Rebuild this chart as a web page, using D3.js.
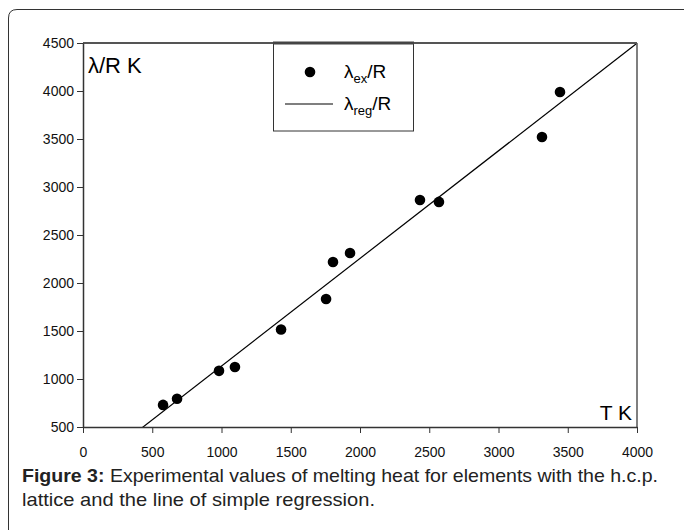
<!DOCTYPE html>
<html>
<head>
<meta charset="utf-8">
<script src="https://cdn.jsdelivr.net/npm/d3@7"></script>
<style>
  body { margin: 0; background: #fff; }
  svg text { font-family: "Liberation Sans", Arial, sans-serif; }
</style>
</head>
<body>
<div id="chart"></div>
<script>
// melting temperature T (K) and lambda_ex/R (K)
const tempK = [578, 679, 982, 1097, 1430, 1755, 1805, 1928, 2433, 2570, 3314, 3444];
const lambdaEx = [730, 795, 1085, 1125, 1515, 1833, 2219, 2312, 2865, 2845, 3521, 3990];

// regression line lambda_reg/R = a*T + b
const regSlope = 1.121;
const regIntercept = 14;

const xTicks = [0, 500, 1000, 1500, 2000, 2500, 3000, 3500, 4000];
const yTicks = [500, 1000, 1500, 2000, 2500, 3000, 3500, 4000, 4500];

const W = 684, H = 530;
const plot = {left: 83, right: 637, top: 43, bottom: 427};

const svg = d3.select("#chart").append("svg")
    .attr("width", W)
    .attr("height", H);

// outer frame, left + top only, rounded corner
svg.append("path")
    .attr("d", `M8.5,${H} L8.5,18 Q8.5,9.5 17,9.5 L${W},9.5`)
    .attr("fill", "none")
    .attr("stroke", "#333")
    .attr("stroke-width", 1);

const x = d3.scaleLinear().domain([0, 4000]).range([plot.left, plot.right]);
const y = d3.scaleLinear().domain([500, 4500]).range([plot.bottom, plot.top]);

svg.append("clipPath").attr("id", "clip")
  .append("rect")
    .attr("x", plot.left).attr("y", plot.top)
    .attr("width", plot.right - plot.left)
    .attr("height", plot.bottom - plot.top);

// regression line
const xr = [0, 4000];
svg.append("line")
    .attr("clip-path", "url(#clip)")
    .attr("x1", x(xr[0])).attr("y1", y(regSlope * xr[0] + regIntercept))
    .attr("x2", x(xr[1])).attr("y2", y(regSlope * xr[1] + regIntercept))
    .attr("stroke", "#000")
    .attr("stroke-width", 1.2);

// points
svg.append("g")
  .selectAll("circle")
  .data(tempK.map((t, i) => ({t, l: lambdaEx[i]})))
  .join("circle")
    .attr("cx", d => x(d.t))
    .attr("cy", d => y(d.l))
    .attr("r", 5.3)
    .attr("fill", "#000");

// top and right frame lines
svg.append("line")
    .attr("x1", plot.left).attr("x2", plot.right)
    .attr("y1", plot.top).attr("y2", plot.top)
    .attr("stroke", "#555").attr("stroke-width", 2);
svg.append("line")
    .attr("x1", plot.right).attr("x2", plot.right)
    .attr("y1", plot.top).attr("y2", plot.bottom)
    .attr("stroke", "#555").attr("stroke-width", 1.5);

// axes
const xAxis = d3.axisBottom(x).tickValues(xTicks).tickFormat(d3.format("d"))
    .tickSize(6).tickPadding(14).tickSizeOuter(0);
const yAxis = d3.axisLeft(y).tickValues(yTicks).tickFormat(d3.format("d"))
    .tickSize(6).tickPadding(3).tickSizeOuter(0);

const gx = svg.append("g")
    .attr("transform", `translate(0,${plot.bottom})`)
    .call(xAxis);
const gy = svg.append("g")
    .attr("transform", `translate(${plot.left},0)`)
    .call(yAxis);

[gx, gy].forEach(g => {
  g.select(".domain").attr("stroke", "#333").attr("stroke-width", 1.5);
  g.selectAll(".tick line").attr("stroke", "#333");
  g.selectAll("text")
    .attr("font-size", 14)
    .attr("fill", "#111")
    .style("font-family", "'Liberation Sans', Arial, sans-serif");
});

// axis titles inside the plot
svg.append("text")
    .attr("x", plot.left + 5).attr("y", 73)
    .attr("font-size", 22)
    .text("λ/R K");
svg.append("text")
    .attr("x", plot.right - 5).attr("y", 420)
    .attr("text-anchor", "end")
    .attr("font-size", 21)
    .text("T K");

// legend
const lg = svg.append("g");
lg.append("rect")
    .attr("x", 273.5).attr("y", 43)
    .attr("width", 140).attr("height", 88)
    .attr("fill", "#fff")
    .attr("stroke", "#333").attr("stroke-width", 1);
lg.append("line")
    .attr("x1", 273).attr("x2", 414)
    .attr("y1", 43).attr("y2", 43)
    .attr("stroke", "#444").attr("stroke-width", 3);
lg.append("circle")
    .attr("cx", 310).attr("cy", 72).attr("r", 5.3).attr("fill", "#000");
lg.append("line")
    .attr("x1", 285).attr("x2", 333)
    .attr("y1", 104).attr("y2", 104)
    .attr("stroke", "#000").attr("stroke-width", 1.2);

const t1 = lg.append("text").attr("x", 344).attr("y", 78).attr("font-size", 19);
t1.append("tspan").text("λ");
t1.append("tspan").attr("font-size", 13).attr("dy", 5).text("ex");
t1.append("tspan").attr("dy", -5).text("/R");

const t2 = lg.append("text").attr("x", 344).attr("y", 110).attr("font-size", 19);
t2.append("tspan").text("λ");
t2.append("tspan").attr("font-size", 13).attr("dy", 5).text("reg");
t2.append("tspan").attr("dy", -5).text("/R");

// caption
const cap1 = svg.append("text").attr("x", 22).attr("y", 482).attr("font-size", 18.5)
    .attr("fill", "#222")
    .attr("textLength", 636).attr("lengthAdjust", "spacingAndGlyphs");
cap1.append("tspan").attr("font-weight", "bold").text("Figure 3:");
cap1.append("tspan").text(" Experimental values of melting heat for elements with the h.c.p.");
svg.append("text").attr("x", 22).attr("y", 506).attr("font-size", 18.5).attr("fill", "#222")
    .attr("textLength", 353).attr("lengthAdjust", "spacingAndGlyphs")
    .text("lattice and the line of simple regression.");
</script>
</body>
</html>
